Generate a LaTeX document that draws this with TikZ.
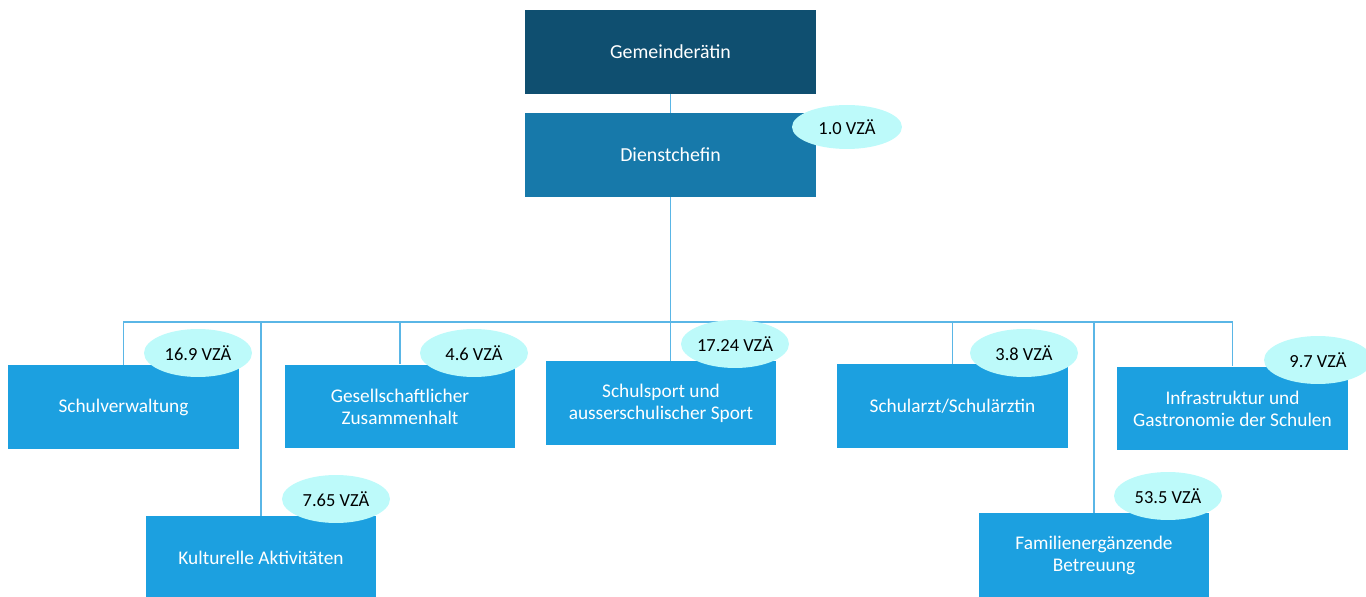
\documentclass[tikz,border=0pt]{standalone}
\usepackage{fontspec}
\setmainfont{Carlito}
\usetikzlibrary{shapes.geometric}
\definecolor{chefdark}{HTML}{0F4F70}
\definecolor{chefmid}{HTML}{1779AA}
\definecolor{unitblue}{HTML}{1CA0E0}
\definecolor{linkblue}{HTML}{5AB6E6}
\definecolor{vzafill}{HTML}{BDFAFA}
\begin{document}
\begin{tikzpicture}[x=0.02cm,y=-0.02cm,
    unit/.style={rectangle,fill=unitblue,text=white,align=center,
      minimum width=4.62cm,minimum height=1.68cm,inner sep=0pt,
      font=\fontsize{11}{12.5}\selectfont},
    head/.style={unit,minimum width=5.82cm,font=\fontsize{11.3}{12.5}\selectfont},
    vza/.style={ellipse,fill=vzafill,text=black,minimum width=2.16cm,
      minimum height=0.96cm,inner sep=0pt,font=\fontsize{10.5}{12}\selectfont},
    link/.style={draw=linkblue,line width=0.7pt}]
    \useasboundingbox (0,0) rectangle (1366,597);
    \clip (0,0) rectangle (1366,597);
    % top
    \node[head,fill=chefdark] (gr) at (670.5,52) {Gemeinderätin};
    \node[head,fill=chefmid] (dc) at (670.5,155) {Dienstchefin};
    % units
    \node[unit] (sv) at (123.5,407) {Schulverwaltung};
    \node[unit] (gz) at (400,406.5) {Gesellschaftlicher\\Zusammenhalt};
    \node[unit] (sp) at (661,403) {Schulsport und\\ausserschulischer Sport};
    \node[unit] (sa) at (952.5,406) {Schularzt/Schulärztin};
    \node[unit] (ig) at (1232.5,408.5) {Infrastruktur und\\Gastronomie der Schulen};
    \node[unit] (ka) at (261,558) {Kulturelle Aktivitäten};
    \node[unit] (fb) at (1094,555) {Familienergänzende\\Betreuung};
    % bus
    \coordinate (busL) at (123.5,322);
    \coordinate (busR) at (1232.5,322);
    \draw[link] (gr) -- (dc);
    \draw[link] (dc.south) -- (dc.south |- sp.north);
    \draw[link] (sv.north) -- (busL) -- (busR) -- (ig.north);
    \draw[link] (ka.north) -- (ka.north |- busL);
    \draw[link] (gz.north) -- (gz.north |- busL);
    \draw[link] (sa.north) -- (sa.north |- busL);
    \draw[link] (fb.north) -- (fb.north |- busL);
    % staff counts
    \node[vza,minimum width=2.2cm,minimum height=0.88cm] (vdc) at (847,127) {1.0 VZÄ};
    \node[vza] (vsv) at (198,353) {16.9 VZÄ};
    \node[vza] (vgz) at (474,353) {4.6 VZÄ};
    \node[vza] (vsp) at (735,344) {17.24 VZÄ};
    \node[vza] (vsa) at (1024,353) {3.8 VZÄ};
    \node[vza] (vig) at (1318,360) {9.7 VZÄ};
    \node[vza] (vka) at (336,499) {7.65 VZÄ};
    \node[vza] (vfb) at (1168,496) {53.5 VZÄ};
\end{tikzpicture}
\end{document}
